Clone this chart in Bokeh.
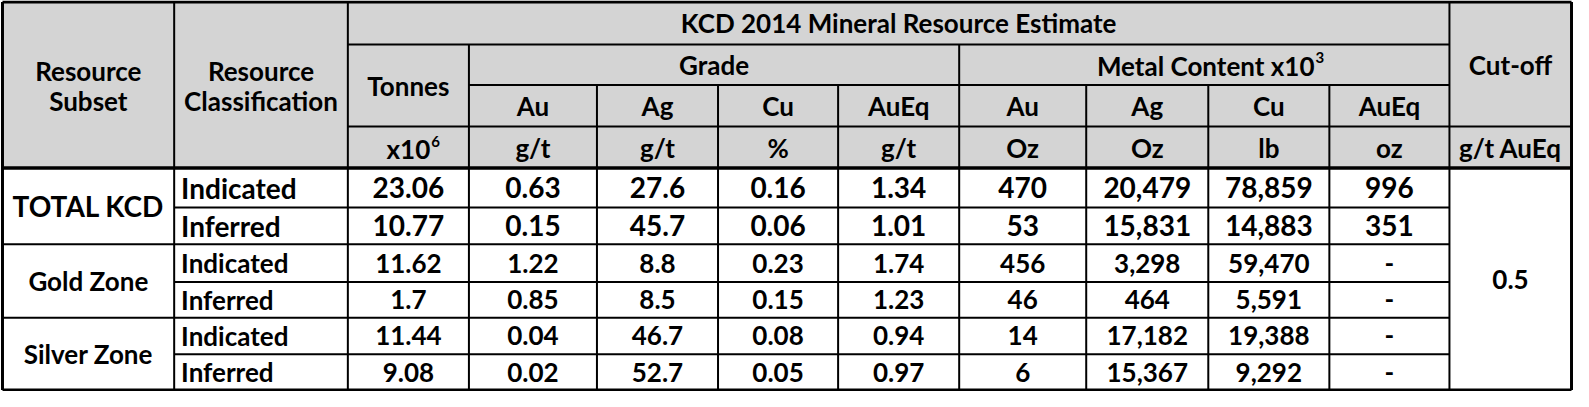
from bokeh.plotting import figure
from bokeh.models import Range1d
from bokeh.embed import file_html
from bokeh.resources import INLINE
from bokeh.core.properties import value

# ---------------- data ----------------
title = "KCD 2014 Mineral Resource Estimate"
subsets = ["TOTAL KCD", "Gold Zone", "Silver Zone"]
classes = ["Indicated", "Inferred", "Indicated", "Inferred", "Indicated", "Inferred"]
tonnes = ["23.06", "10.77", "11.62", "1.7", "11.44", "9.08"]
grade_au = ["0.63", "0.15", "1.22", "0.85", "0.04", "0.02"]
grade_ag = ["27.6", "45.7", "8.8", "8.5", "46.7", "52.7"]
grade_cu = ["0.16", "0.06", "0.23", "0.15", "0.08", "0.05"]
grade_aueq = ["1.34", "1.01", "1.74", "1.23", "0.94", "0.97"]
metal_au = ["470", "53", "456", "46", "14", "6"]
metal_ag = ["20,479", "15,831", "3,298", "464", "17,182", "15,367"]
metal_cu = ["78,859", "14,883", "59,470", "5,591", "19,388", "9,292"]
metal_aueq = ["996", "351", "-", "-", "-", "-"]
cutoff = "0.5"
sub_heads = ["Au", "Ag", "Cu", "AuEq", "Au", "Ag", "Cu", "AuEq"]
units = ["g/t", "g/t", "%", "g/t", "Oz", "Oz", "lb", "oz"]

# ---------------- layout ----------------
X = [0, 173, 348, 470, 599, 721, 842, 964, 1092, 1215, 1337, 1458, 1581]
HY = [2, 46, 88, 131, 174]
BY = [174, 215, 253, 292, 329, 367, 404]
FONT = "Lato"
HEAD_FILL = "#D4D4D4"

p = figure(width=1573, height=391, output_backend="svg", toolbar_location=None,
           x_range=Range1d(-2, 1583), y_range=Range1d(405.5, 0.5),
           min_border=0, outline_line_color=None, background_fill_color="white")
p.axis.visible = False
p.grid.visible = False

# header background
p.quad(left=[X[0]], right=[X[-1]], top=[HY[0]], bottom=[HY[-1]],
       fill_color=HEAD_FILL, line_color=None)

def seg(x0, y0, x1, y1, w=2):
    p.segment(x0=[x0], y0=[y0], x1=[x1], y1=[y1], line_color="black", line_width=w)

# header lines
seg(X[2], HY[1], X[11], HY[1])
seg(X[3], HY[2], X[11], HY[2])
seg(X[2], HY[3], X[12], HY[3])
for xi in (1, 2, 11):
    seg(X[xi], HY[0], X[xi], BY[-1])
for xi in (3, 7):
    seg(X[xi], HY[1], X[xi], BY[-1])
for xi in (4, 5, 6, 8, 9, 10):
    seg(X[xi], HY[2], X[xi], BY[-1])
# body lines
for yi in (1, 3, 5):
    seg(X[1], BY[yi], X[11], BY[yi])
for yi in (2, 4):
    seg(X[0], BY[yi], X[11], BY[yi])
# header bottom (thick)
seg(X[0], HY[-1], X[-1], HY[-1], 3.5)
# outer border
seg(X[0], HY[0], X[-1], HY[0], 3)
seg(X[0], BY[-1], X[-1], BY[-1], 3)
seg(X[0], HY[0], X[0], BY[-1], 3)
seg(X[-1], HY[0], X[-1], BY[-1], 3)

def txt(xs, ys, texts, size, align="center"):
    p.text(x=xs, y=ys, text=texts, text_font=value(FONT), text_font_style="bold",
           text_font_size=f"{size}px", text_align=align, text_baseline="middle",
           text_color="black")

HS = 26
cx = [(X[i] + X[i + 1]) / 2 for i in range(len(X) - 1)]
# header texts
txt([cx[0], cx[0]], [74, 105], ["Resource", "Subset"], HS)
txt([cx[1], cx[1]], [74, 105], ["Resource", "Classification"], HS)
txt([(X[2] + X[11]) / 2], [(HY[0] + HY[1]) / 2], [title], HS)
txt([cx[2]], [89], ["Tonnes"], HS)
txt([(X[3] + X[7]) / 2], [(HY[1] + HY[2]) / 2], ["Grade"], HS)
txt([1322], [(HY[1] + HY[2]) / 2 + 1], ["Metal Content x10"], HS, "right")
txt([1323], [(HY[1] + HY[2]) / 2 - 7], ["3"], 15, "left")
txt([cx[11]], [67], ["Cut-off"], HS)
txt(cx[3:11], [(HY[2] + HY[3]) / 2] * 8, sub_heads, HS)
txt(cx[3:11], [(HY[3] + HY[4]) / 2 + 1] * 8, units, HS)
txt([431], [(HY[3] + HY[4]) / 2 + 2], ["x10"], HS, "right")
txt([432], [(HY[3] + HY[4]) / 2 - 6], ["6"], 15, "left")
txt([cx[11]], [(HY[3] + HY[4]) / 2 + 1], ["g/t AuEq"], HS)

# body
rc = [(BY[i] + BY[i + 1]) / 2 for i in range(6)]
for g in range(3):
    size = 28 if g == 0 else 26
    txt([cx[0]], [(BY[2 * g] + BY[2 * g + 2]) / 2], [subsets[g]], size)
    rows = [2 * g, 2 * g + 1]
    ys = [rc[r] for r in rows]
    txt([180, 180], ys, [classes[r] for r in rows], size, "left")
    for ci, col in enumerate([tonnes, grade_au, grade_ag, grade_cu, grade_aueq,
                              metal_au, metal_ag, metal_cu, metal_aueq]):
        txt([cx[2 + ci]] * 2, ys, [col[r] for r in rows], size)
txt([cx[11]], [(BY[0] + BY[-1]) / 2], [cutoff], 26)

open("out.html", "w").write(file_html(p, INLINE))
